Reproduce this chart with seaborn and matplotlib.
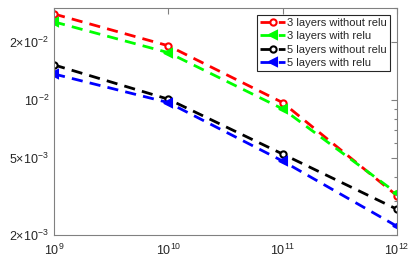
import numpy as np
import pandas as pd
import matplotlib
matplotlib.use("Agg")
import matplotlib.pyplot as plt
import seaborn as sns
from matplotlib.ticker import FixedLocator, FixedFormatter, NullFormatter

x_vals = [1e9, 1e10, 1e11, 1e12]
three_no_relu = [0.0279, 0.0191, 0.0097, 0.00320]
three_relu = [0.0254, 0.0176, 0.0090, 0.00329]
five_no_relu = [0.0152, 0.0101, 0.00525, 0.00272]
five_relu = [0.01364, 0.0097, 0.00483, 0.00222]

names = ['3 layers without relu', '3 layers with relu',
         '5 layers without relu', '5 layers with relu']
colors = ['#ff0000', '#00ff00', '#000000', '#0000ff']
markers = ['o', '<', 'o', '<']
filled = [False, True, False, True]

y_minor = [3e-3, 4e-3, 6e-3, 7e-3, 8e-3, 9e-3, 3e-2]

rows = []
for name, vals in zip(names, [three_no_relu, three_relu, five_no_relu, five_relu]):
    for xv, yv in zip(x_vals, vals):
        rows.append({'x': xv, 'y': yv, 'series': name})
df = pd.DataFrame(rows)

sns.set_style('white')
plt.rcParams['font.family'] = ['Liberation Sans', 'DejaVu Sans']
plt.rcParams['mathtext.fontset'] = 'custom'
plt.rcParams['mathtext.rm'] = 'Liberation Sans'
plt.rcParams['mathtext.it'] = 'Liberation Sans'

fig = plt.figure(figsize=(4.16, 2.64), dpi=100)
ax = fig.add_axes([0.130, 0.110, 0.824, 0.860])

for name, c, m, f in zip(names, colors, markers, filled):
    sub = df[df['series'] == name]
    sns.lineplot(data=sub, x='x', y='y', ax=ax, color=c, marker=m,
                 linewidth=2, markersize=4.5 if m == 'o' else 5.5,
                 markerfacecolor=c if f else 'white', markeredgecolor=c,
                 markeredgewidth=1.5, label=name)
    ax.lines[-1].set_dashes((4, 2.6))

ax.set_xscale('log')
ax.set_yscale('log')
ax.set_xlim(1e9, 1e12)
ax.set_ylim(2e-3, 3e-2)
ax.set_xlabel('')
ax.set_ylabel('')

ax.xaxis.set_major_locator(FixedLocator(x_vals))
ax.xaxis.set_major_formatter(FixedFormatter([r'$10^{9}$', r'$10^{10}$', r'$10^{11}$', r'$10^{12}$']))
ax.xaxis.set_minor_locator(FixedLocator([]))
ax.yaxis.set_major_locator(FixedLocator([2e-3, 5e-3, 1e-2, 2e-2]))
ax.yaxis.set_major_formatter(FixedFormatter([r'$2{\times}10^{-3}$', r'$5{\times}10^{-3}$',
                                              r'$10^{-2}$', r'$2{\times}10^{-2}$']))
ax.yaxis.set_minor_locator(FixedLocator(y_minor))
ax.yaxis.set_minor_formatter(NullFormatter())

for s in ax.spines.values():
    s.set_color('#808080')
    s.set_linewidth(0.8)
ax.tick_params(which='both', direction='in', top=True, right=True,
               colors='#808080', labelcolor='#262626', labelsize=9)
ax.tick_params(which='major', length=4, width=0.8)
ax.tick_params(which='minor', length=2.5, width=0.8)
ax.tick_params(axis='x', pad=6)

leg = ax.legend(loc='upper right', fontsize=8, frameon=True, fancybox=False,
                edgecolor='#262626', framealpha=1, borderpad=0.3,
                labelspacing=0.3, handlelength=2.2, handletextpad=0.2,
                borderaxespad=0.6)
leg.get_frame().set_linewidth(0.8)

fig.savefig('out.png', dpi=100)
